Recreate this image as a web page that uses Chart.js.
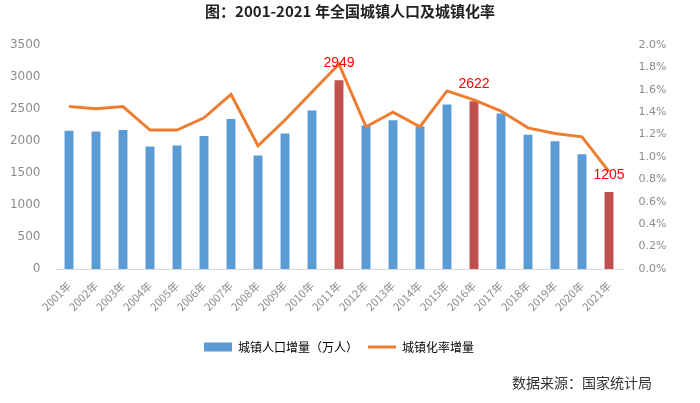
<!DOCTYPE html>
<html><head><meta charset="utf-8">
<script src="https://cdn.jsdelivr.net/npm/chart.js@4/dist/chart.umd.min.js"></script>
<style>html,body{margin:0;padding:0;background:#fff}#wrap{width:700px;height:403px}</style>
</head><body><div id="wrap"><canvas id="c" width="700" height="403"></canvas></div>
<script>
const years = ['2001年','2002年','2003年','2004年','2005年','2006年','2007年','2008年','2009年','2010年','2011年','2012年','2013年','2014年','2015年','2016年','2017年','2018年','2019年','2020年','2021年'];
const popIncrease = [2161,2150,2171,1915,1931,2077,2344,1773,2119,2475,2949,2244,2323,2229,2569,2622,2428,2098,1998,1794,1205];
const rateIncrease = [1.45,1.43,1.45,1.24,1.24,1.35,1.56,1.10,1.33,1.58,1.83,1.27,1.40,1.27,1.59,1.51,1.41,1.26,1.21,1.18,0.87];
const highlightYears = ['2011年','2016年','2021年'];
const seriesNames = ['城镇人口增量（万人）','城镇化率增量'];
const titleText = '图：2001-2021 年全国城镇人口及城镇化率';
const sourceText = '数据来源：国家统计局';

const BLUE = '#5B9BD5', RED = '#C0504D', ORANGE = '#ED7D31';
const CJK = '"Noto Sans CJK SC", "Noto Sans", sans-serif';

const extras = {
  id: 'extras',
  afterDatasetsDraw(chart) {
    const ctx = chart.ctx;
    const meta = chart.getDatasetMeta(0);
    ctx.save();
    ctx.font = '14px "Liberation Sans", Arial, sans-serif';
    ctx.fillStyle = '#FF0000';
    ctx.textAlign = 'center';
    ctx.textBaseline = 'middle';
    meta.data.forEach((bar, i) => {
      if (highlightYears.includes(years[i])) ctx.fillText(String(popIncrease[i]), bar.x, bar.y - 17);
    });
    ctx.restore();
  },
  afterDraw(chart) {
    const ctx = chart.ctx;
    ctx.save();
    ctx.font = '14px ' + CJK;
    ctx.fillStyle = '#333333';
    ctx.textAlign = 'right';
    ctx.textBaseline = 'middle';
    ctx.fillText(sourceText, 652, 383);
    ctx.restore();
  }
};

new Chart(document.getElementById('c'), {
  type: 'bar',
  data: {
    labels: years,
    datasets: [
      {
        label: seriesNames[0],
        data: popIncrease,
        backgroundColor: years.map(y => highlightYears.includes(y) ? RED : BLUE),
        barPercentage: 0.33,
        categoryPercentage: 1,
        yAxisID: 'y',
        order: 2
      },
      {
        type: 'line',
        label: seriesNames[1],
        data: rateIncrease,
        borderColor: ORANGE,
        backgroundColor: ORANGE,
        borderWidth: 3,
        pointRadius: 0,
        tension: 0,
        yAxisID: 'y1',
        order: 1
      }
    ]
  },
  options: {
    responsive: false,
    devicePixelRatio: 1,
    animation: false,
    layout: { padding: { bottom: 40, left: 0, right: 0 } },
    plugins: {
      tooltip: { enabled: false },
      title: {
        display: true,
        text: titleText,
        color: '#222',
        font: { family: CJK, size: 15, weight: 'bold' },
        padding: { top: 2, bottom: 25 }
      },
      legend: {
        position: 'bottom',
        fullSize: false,
        labels: {
          usePointStyle: true,
          pointStyleWidth: 28,
          boxHeight: 9,
          padding: 10,
          color: '#595959',
          font: { family: CJK, size: 12 },
          generateLabels: () => [
            { text: seriesNames[0], fillStyle: BLUE, strokeStyle: BLUE, lineWidth: 0, pointStyle: 'rect', datasetIndex: 0, hidden: false },
            { text: seriesNames[1], fillStyle: ORANGE, strokeStyle: ORANGE, lineWidth: 3, pointStyle: 'line', datasetIndex: 1, hidden: false }
          ]
        }
      }
    },
    scales: {
      x: {
        grid: { display: false },
        border: { color: '#d9d9d9' },
        ticks: { autoSkip: false, maxRotation: 45, minRotation: 45, color: '#8c8c8c', font: { family: CJK, size: 11 }, padding: 2 },
        afterFit: s => { s.height = 62; }
      },
      y: {
        position: 'left',
        min: 0, max: 3500,
        grid: { display: false },
        border: { display: false },
        ticks: { stepSize: 500, color: '#8c8c8c', font: { family: '"DejaVu Sans", sans-serif', size: 12 }, padding: 7, callback: v => String(v) },
        afterFit: s => { s.width = 55.5; }
      },
      y1: {
        position: 'right',
        min: 0, max: 2.0,
        grid: { display: false },
        border: { display: false },
        ticks: { stepSize: 0.2, color: '#8c8c8c', font: { family: '"DejaVu Sans", sans-serif', size: 11 }, padding: 8, callback: v => v.toFixed(1) + '%' },
        afterFit: s => { s.width = 77.5; }
      }
    }
  },
  plugins: [extras]
});
</script>
</body></html>
